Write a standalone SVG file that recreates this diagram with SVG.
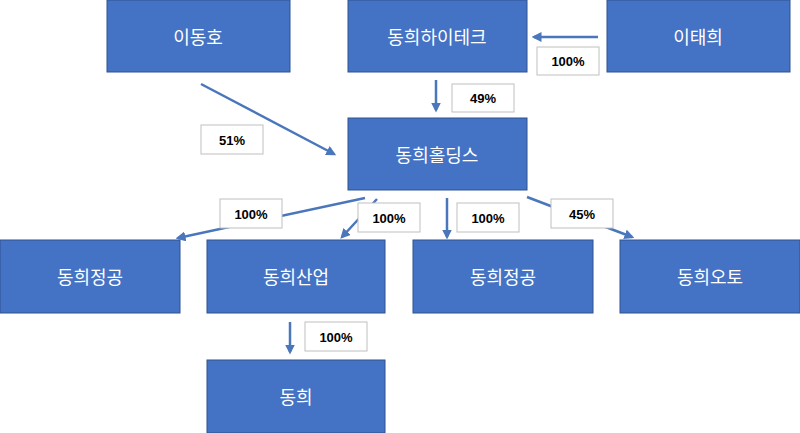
<svg xmlns="http://www.w3.org/2000/svg" width="800" height="433" viewBox="0 0 800 433">
<style>
.n{fill:#4472C4;stroke:#2F528F;stroke-width:1}
.t{font-family:"Noto Sans CJK KR","Noto Sans",sans-serif;font-size:18px;fill:#fff;text-anchor:middle;dominant-baseline:central}
.l{fill:#fff;stroke:#BFBFBF;stroke-width:1}
.lt{font-family:"Liberation Sans",sans-serif;font-size:13px;font-weight:bold;fill:#000;text-anchor:middle;dominant-baseline:central}
.c{stroke:#4A76BC;stroke-width:2.5;fill:none;marker-end:url(#a)}
</style>
<defs><marker id="a" markerWidth="4" markerHeight="4" refX="3" refY="2" orient="auto"><path d="M0,0L4,2L0,4z" fill="#4A76BC"/></marker></defs>
<rect width="800" height="433" fill="#fff"/>
<g id="connectors">
<line class="c" x1="598" y1="37" x2="534" y2="37"/>
<line class="c" x1="436" y1="80" x2="436" y2="110"/>
<line class="c" x1="201" y1="84" x2="334" y2="154"/>
<line class="c" x1="365" y1="198" x2="178" y2="238"/>
<line class="c" x1="377" y1="199" x2="342" y2="237"/>
<line class="c" x1="447" y1="198" x2="447" y2="237"/>
<line class="c" x1="527" y1="197" x2="632" y2="237"/>
<line class="c" x1="290" y1="322" x2="290" y2="352"/>
</g>
<g id="n1"><rect class="n" x="107" y="0" width="183" height="72"/><text class="t" x="198" y="36">이동호</text></g>
<g id="n2"><rect class="n" x="348" y="0" width="179" height="72"/><text class="t" x="437" y="36">동희하이테크</text></g>
<g id="n3"><rect class="n" x="607" y="0" width="183" height="72"/><text class="t" x="698" y="36">이태희</text></g>
<g id="n4"><rect class="n" x="348" y="118" width="179" height="72"/><text class="t" x="437" y="154">동희홀딩스</text></g>
<g id="n5"><rect class="n" x="0" y="240" width="180" height="73"/><text class="t" x="90" y="276">동희정공</text></g>
<g id="n6"><rect class="n" x="207" y="240" width="178" height="73"/><text class="t" x="296" y="276">동희산업</text></g>
<g id="n7"><rect class="n" x="413" y="240" width="180" height="73"/><text class="t" x="503" y="276">동희정공</text></g>
<g id="n8"><rect class="n" x="620" y="240" width="180" height="73"/><text class="t" x="710" y="276">동희오토</text></g>
<g id="n9"><rect class="n" x="207" y="360" width="178" height="73"/><text class="t" x="296" y="396">동희</text></g>
<g id="labels">
<rect class="l" x="537" y="47" width="62" height="28"/><text class="lt" x="568" y="61">100%</text>
<rect class="l" x="452" y="84" width="62" height="28"/><text class="lt" x="483" y="98">49%</text>
<rect class="l" x="201" y="125" width="62" height="29"/><text class="lt" x="232" y="140">51%</text>
<rect class="l" x="220" y="199" width="62" height="29"/><text class="lt" x="251" y="214">100%</text>
<rect class="l" x="358" y="203" width="62" height="29"/><text class="lt" x="389" y="218">100%</text>
<rect class="l" x="457" y="203" width="62" height="29"/><text class="lt" x="488" y="218">100%</text>
<rect class="l" x="551" y="199" width="62" height="29"/><text class="lt" x="582" y="214">45%</text>
<rect class="l" x="305" y="322" width="62" height="29"/><text class="lt" x="336" y="337">100%</text>
</g>
</svg>
